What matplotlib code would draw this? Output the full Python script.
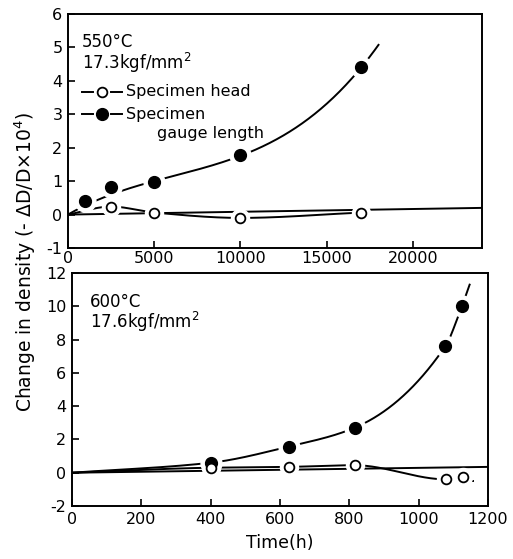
import numpy as np
import matplotlib
matplotlib.use("Agg")
import matplotlib.pyplot as plt

# ---------------- data ----------------
# 550 C, 17.3 kgf/mm2
t1_gauge = [0, 1000, 2500, 5000, 10000, 17000]
d1_gauge = [0, 0.40, 0.82, 0.96, 1.77, 4.40]
t1_head = [0, 2500, 5000, 10000, 17000]
d1_head = [0, 0.24, 0.06, -0.10, 0.06]
t1_base = [0, 24000]
d1_base = [0.0, 0.20]

# 600 C, 17.6 kgf/mm2
t2_gauge = [0, 400, 625, 815, 1077, 1125]
d2_gauge = [0, 0.60, 1.57, 2.70, 7.60, 10.0]
t2_head = [0, 400, 625, 815, 1080, 1128]
d2_head = [0, 0.30, 0.35, 0.45, -0.40, -0.25]
t2_base = [0, 1200]
d2_base = [0.0, 0.35]

xticks1 = [0, 5000, 10000, 15000, 20000]
yticks1 = [-1, 0, 1, 2, 3, 4, 5, 6]
xticks2 = [0, 200, 400, 600, 800, 1000, 1200]
yticks2 = [-2, 0, 2, 4, 6, 8, 10, 12]


def pchip(x, y, xn):
    x = np.asarray(x, float); y = np.asarray(y, float)
    h = np.diff(x); d = np.diff(y) / h
    n = len(x); m = np.zeros(n)
    for k in range(1, n - 1):
        if d[k - 1] * d[k] > 0:
            w1 = 2 * h[k] + h[k - 1]; w2 = h[k] + 2 * h[k - 1]
            m[k] = (w1 + w2) / (w1 / d[k - 1] + w2 / d[k])
    m[0] = d[0]; m[-1] = d[-1]
    idx = np.clip(np.searchsorted(x, xn) - 1, 0, n - 2)
    t = (xn - x[idx]) / h[idx]
    h00 = 2 * t**3 - 3 * t**2 + 1; h10 = t**3 - 2 * t**2 + t
    h01 = -2 * t**3 + 3 * t**2; h11 = t**3 - t**2
    return h00 * y[idx] + h10 * h[idx] * m[idx] + h01 * y[idx + 1] + h11 * h[idx] * m[idx + 1]


plt.rcParams['font.family'] = ['DejaVu Sans']
plt.rcParams['axes.unicode_minus'] = False
fig = plt.figure(figsize=(5.13, 5.59), dpi=100)
W, H = 513, 559
ax1 = fig.add_axes([68 / W, 1 - 248 / H, 414 / W, 234 / H])
ax2 = fig.add_axes([72 / W, 1 - 506 / H, 416 / W, 233 / H])

lw = 1.4


def halo_markers(ax, tg, dg, th, dh):
    ax.plot(tg[1:], dg[1:], 'o', ms=15, color='white', zorder=3)
    ax.plot(th[1:], dh[1:], 'o', ms=13, color='white', zorder=3)
    ax.plot(tg[1:], dg[1:], 'o', ms=8.5, color='black', zorder=4)
    ax.plot(th[1:], dh[1:], 'o', ms=7, mfc='white', mec='black', mew=1.3, zorder=4)


# ---- top panel ----
ax1.plot(t1_base, d1_base, color='black', lw=lw, zorder=2)
w = np.array([5, 0.4, 0.4, 1, 1, 1])
coef = np.polyfit(t1_gauge, d1_gauge, 3, w=w)
xs = np.linspace(0, 18000, 400)
ax1.plot(xs, np.polyval(coef, xs), color='black', lw=lw, zorder=2)
xs = np.linspace(0, 17000, 400)
ax1.plot(xs, pchip(t1_head, d1_head, xs), color='black', lw=lw, zorder=2)
halo_markers(ax1, t1_gauge, d1_gauge, t1_head, d1_head)

# ---- bottom panel ----
ax2.plot(t2_base, d2_base, color='black', lw=lw, zorder=2)
xs = np.linspace(0, 1125, 400)
ax2.plot(xs, pchip(t2_gauge, d2_gauge, xs), color='black', lw=lw, zorder=2)
# short extension beyond last point
ax2.plot([t2_gauge[-1], t2_gauge[-1] + 22], [d2_gauge[-1], d2_gauge[-1] + 1.3],
         color='black', lw=lw, zorder=2)
xs = np.linspace(0, 1128, 400)
ax2.plot(xs, pchip(t2_head, d2_head, xs), color='black', lw=lw, zorder=2)
ax2.plot([t2_head[-1], t2_head[-1] + 30], [d2_head[-1] - 0.25, d2_head[-1] - 0.25],
         color='black', lw=lw, zorder=2)
halo_markers(ax2, t2_gauge, d2_gauge, t2_head, d2_head)

for ax, xt, yt, xl, yl in [(ax1, xticks1, yticks1, (0, 24000), (-1, 6)),
                           (ax2, xticks2, yticks2, (0, 1200), (-2, 12))]:
    ax.set_xlim(*xl); ax.set_ylim(*yl)
    ax.set_xticks(xt); ax.set_yticks(yt)
    ax.tick_params(direction='in', length=5, width=1.2, labelsize=11.5, pad=4)
    for s in ax.spines.values():
        s.set_linewidth(1.4)
ax1.tick_params(axis='x', pad=2)

ax1.text(0.034, 0.88, "550°C", transform=ax1.transAxes, fontsize=12, va='center')
ax1.text(0.034, 0.79, "17.3kgf/mm$^2$", transform=ax1.transAxes, fontsize=12, va='center')


def leg_row(y, filled, label):
    ax1.plot([0.035, 0.06], [y, y], transform=ax1.transAxes, color='black', lw=lw)
    ax1.plot([0.105, 0.13], [y, y], transform=ax1.transAxes, color='black', lw=lw)
    if filled:
        ax1.plot([0.0825], [y], 'o', ms=8.5, color='black', transform=ax1.transAxes)
    else:
        ax1.plot([0.0825], [y], 'o', ms=7, mfc='white', mec='black', mew=1.3,
                 transform=ax1.transAxes)
    ax1.text(0.14, y, label, transform=ax1.transAxes, fontsize=11.5, va='center')


leg_row(0.667, False, "Specimen head")
leg_row(0.572, True, "Specimen")
ax1.text(0.215, 0.49, "gauge length", transform=ax1.transAxes, fontsize=11.5, va='center')

ax2.text(0.043, 0.875, "600°C", transform=ax2.transAxes, fontsize=12, va='center')
ax2.text(0.043, 0.79, "17.6kgf/mm$^2$", transform=ax2.transAxes, fontsize=12, va='center')

ax2.set_xlabel("Time(h)", fontsize=12.5, labelpad=5)
fig.text(25 / W, 1 - 262 / H, "Change in density (- ΔD/D×10$^4$)", rotation=90,
         fontsize=13.5, ha='center', va='center')

fig.savefig("out.png", dpi=100)
